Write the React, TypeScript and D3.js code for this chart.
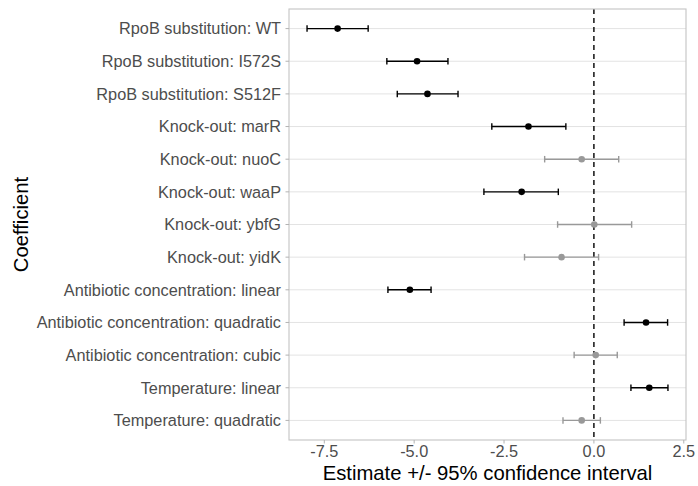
import React from "react";
import * as d3 from "d3";

const categories = [
  "RpoB substitution: WT",
  "RpoB substitution: I572S",
  "RpoB substitution: S512F",
  "Knock-out: marR",
  "Knock-out: nuoC",
  "Knock-out: waaP",
  "Knock-out: ybfG",
  "Knock-out: yidK",
  "Antibiotic concentration: linear",
  "Antibiotic concentration: quadratic",
  "Antibiotic concentration: cubic",
  "Temperature: linear",
  "Temperature: quadratic",
];
const estimates = [-7.13, -4.92, -4.63, -1.82, -0.34, -2.01, 0.01, -0.9, -5.12, 1.45, 0.05, 1.54, -0.34];
const lower = [-7.98, -5.76, -5.47, -2.84, -1.37, -3.06, -1.01, -1.93, -5.73, 0.84, -0.55, 1.03, -0.86];
const upper = [-6.28, -4.06, -3.78, -0.78, 0.69, -0.99, 1.05, 0.13, -4.53, 2.05, 0.65, 2.06, 0.18];
const significant = [true, true, true, true, false, true, false, false, true, true, false, true, false];
const xTicks = [-7.5, -5.0, -2.5, 0.0, 2.5];

const W = 698;
const H = 486;
const left = 289;
const right = 686;
const top = 9;
const bottom = 440;
const font = "'Liberation Sans', Arial, sans-serif";

export default function App() {
  const lo = d3.min(lower) as number;
  const hi = d3.max(upper) as number;
  const pad = (hi - lo) * 0.05;
  const x = d3.scaleLinear().domain([lo - pad, hi + pad]).range([left, right]);
  const n = categories.length;
  const step = (bottom - top) / (n - 1 + 1.2);
  const y = (i: number) => top + step * (0.6 + i);
  const capH = step * 0.1;

  return (
    <svg width={W} height={H} style={{ position: "absolute", left: 0, top: 0, background: "#fff" }} fontFamily={font}>
      <rect x={0} y={0} width={W} height={H} fill="#fff" />
      {categories.map((c, i) => (
        <line key={"g" + i} x1={left} x2={right} y1={y(i)} y2={y(i)} stroke="#e3e3e3" strokeWidth={1} />
      ))}
      <line x1={x(0)} x2={x(0)} y1={top} y2={bottom} stroke="#000" strokeWidth={1.4} strokeDasharray="5,4" />
      {categories.map((c, i) => {
        const col = significant[i] ? "#000" : "#999999";
        const yy = y(i);
        return (
          <g key={"e" + i}>
            <line x1={x(lower[i])} x2={x(upper[i])} y1={yy} y2={yy} stroke={col} strokeWidth={1.4} />
            <line x1={x(lower[i])} x2={x(lower[i])} y1={yy - capH} y2={yy + capH} stroke={col} strokeWidth={1.4} />
            <line x1={x(upper[i])} x2={x(upper[i])} y1={yy - capH} y2={yy + capH} stroke={col} strokeWidth={1.4} />
            <circle cx={x(estimates[i])} cy={yy} r={3.3} fill={col} />
          </g>
        );
      })}
      <rect x={left} y={top} width={right - left} height={bottom - top} fill="none" stroke="#c4c4c4" strokeWidth={1.1} />
      {categories.map((c, i) => (
        <g key={"y" + i}>
          <line x1={left - 3.5} x2={left} y1={y(i)} y2={y(i)} stroke="#b3b3b3" strokeWidth={1} />
          <text x={281} y={y(i)} dy="0.36em" textAnchor="end" fontSize={16.3} fill="#4d4d4d">{c}</text>
        </g>
      ))}
      {xTicks.map((t) => (
        <g key={"x" + t}>
          <line x1={x(t)} x2={x(t)} y1={bottom} y2={bottom + 3.5} stroke="#b3b3b3" strokeWidth={1} />
          <text x={x(t)} y={457} textAnchor="middle" fontSize={16.3} fill="#4d4d4d">{t.toFixed(1)}</text>
        </g>
      ))}
      <text x={(left + right) / 2} y={480} textAnchor="middle" fontSize={20.3} fill="#000">Estimate +/- 95% confidence interval</text>
      <text transform={`translate(28,${(top + bottom) / 2}) rotate(-90)`} textAnchor="middle" fontSize={20.3} fill="#000">Coefficient</text>
    </svg>
  );
}
